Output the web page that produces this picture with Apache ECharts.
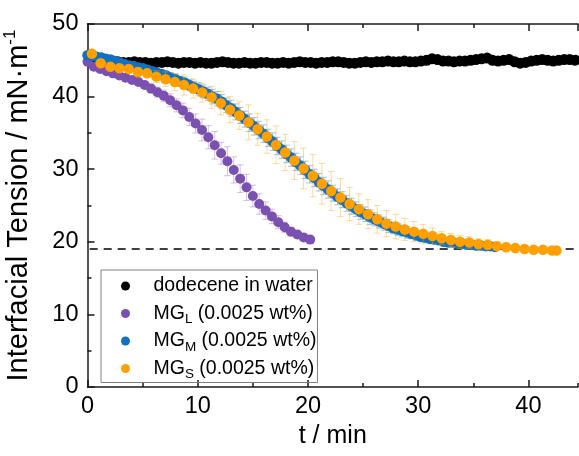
<!DOCTYPE html>
<html>
<head>
<meta charset="utf-8">
<script src="https://cdn.jsdelivr.net/npm/echarts@6/dist/echarts.min.js"></script>
<style>html,body{margin:0;padding:0;background:#fff;}#c{width:579px;height:456px;}</style>
</head>
<body>
<div id="c"></div>
<script>
// ---- data ----
const blackT = [0.25,0.75,1.25,1.75,2.25,2.75,3.25,3.75,4.25,4.75,5.25,5.75,6.25,6.75,7.25,7.75,8.25,8.75,9.25,9.75,10.25,10.75,11.25,11.75,12.25,12.75,13.25,13.75,14.25,14.75,15.25,15.75,16.25,16.75,17.25,17.75,18.25,18.75,19.25,19.75,20.25,20.75,21.25,21.75,22.25,22.75,23.25,23.75,24.25,24.75,25.25,25.75,26.25,26.75,27.25,27.75,28.25,28.75,29.25,29.75,30.25,30.75,31.25,31.75,32.25,32.75,33.25,33.75,34.25,34.75,35.25,35.75,36.25,36.75,37.25,37.75,38.25,38.75,39.25,39.75,40.25,40.75,41.25,41.75,42.25,42.75,43.25,43.75,44.25];
const blackV = [45.0,45.1,45.0,44.9,44.8,44.8,44.7,44.7,44.8,44.7,
  44.7,44.6,44.7,44.7,44.8,44.7,44.6,44.7,44.7,44.6,
  44.7,44.6,44.6,44.7,44.8,44.7,44.6,44.6,44.7,44.6,
  44.6,44.7,44.7,44.6,44.6,44.7,44.6,44.7,44.8,44.7,
  44.7,44.6,44.7,44.7,44.8,44.8,44.7,44.6,44.6,44.7,
  44.8,44.7,44.8,44.8,44.9,44.8,44.8,44.9,44.8,44.8,
  44.9,45.0,45.2,45.1,44.9,44.9,44.8,44.9,44.9,45.0,
  45.1,45.2,45.3,45.0,44.9,45.0,45.1,44.8,44.6,44.7,
  44.9,45.0,45.1,45.0,44.9,45.0,45.1,45.1,45.0];

const mgLT = [0,0.58,1.15,1.73,2.31,2.89,3.46,4.04,4.62,5.19,5.77,6.35,6.92,7.5,8.08,8.66,9.23,9.81,10.39,10.96,11.54,12.12,12.69,13.27,13.85,14.43,15.0,15.58,16.16,16.73,17.31,17.89,18.46,19.04,19.62,20.2];
const mgLV = [44.8,44.1,43.8,43.5,43.2,42.9,42.6,42.3,42.0,41.6,41.1,40.6,40.1,39.5,38.8,38.1,37.2,36.3,35.4,34.4,33.3,32.2,31.1,29.9,28.7,27.5,26.3,25.2,24.3,23.5,22.7,22.0,21.4,21.0,20.6,20.3];
const mgLE = [0.2,0.2,0.3,0.3,0.3,0.3,0.4,0.4,0.5,0.5,0.6,0.7,0.8,0.9,0.9,1.0,1.2,1.3,1.5,1.6,1.9,1.5,2.0,1.8,1.9,1.8,1.5,1.4,1.2,1.0,0.9,0.7,0.6,0.5,0.4,0.3];

const mgMT = [0,0.42,0.84,1.26,1.68,2.1,2.52,2.94,3.36,3.78,4.2,4.62,5.04,5.46,5.88,6.3,6.72,7.14,7.56,7.98,8.4,8.82,9.24,9.66,10.08,10.5,10.92,11.34,11.76,12.18,12.6,13.02,13.44,13.86,14.28,14.7,15.12,15.54,15.96,16.38,16.8,17.22,17.64,18.06,18.48,18.9,19.32,19.74,20.16,20.58,21.0,21.42,21.84,22.26,22.68,23.1,23.52,23.94,24.36,24.78,25.2,25.62,26.04,26.46,26.88,27.3,27.72,28.14,28.56,28.98,29.4,29.82,30.24,30.66,31.08,31.5,31.92,32.34,32.76,33.18,33.6,34.02,34.44,34.86,35.28,35.7,36.12,36.54,36.96];
const mgMV = [45.7,45.6,45.5,45.4,45.2,45.1,44.9,44.7,44.5,44.3,
  44.2,44.0,43.9,43.7,43.5,43.3,43.1,42.9,42.6,42.4,
  42.1,41.9,41.6,41.3,41.0,40.7,40.4,40.0,39.7,39.3,
  38.8,38.4,37.9,37.4,36.9,36.4,35.9,35.4,34.9,34.3,
  33.8,33.2,32.7,32.1,31.6,31.0,30.5,29.9,29.3,28.8,
  28.2,27.7,27.2,26.7,26.2,25.8,25.3,24.9,24.5,24.1,
  23.8,23.4,23.1,22.8,22.5,22.2,21.9,21.7,21.5,21.3,
  21.1,20.9,20.7,20.6,20.4,20.3,20.2,20.0,19.9,19.9,
  19.8,19.7,19.6,19.6,19.5,19.5,19.4,19.4,19.3];
const mgME = [0.3,0.3,0.3,0.3,0.3,0.3,0.3,0.3,0.3,0.3,
  0.4,0.4,0.5,0.5,0.5,0.6,0.6,0.6,0.7,0.7,
  0.7,0.8,0.8,0.8,0.9,0.9,0.9,1.0,1.0,1.0,
  1.0,1.1,1.1,1.1,1.1,1.2,1.2,1.2,1.2,1.2,
  1.2,1.2,1.2,1.2,1.2,1.2,1.2,1.2,1.2,1.2,
  1.2,1.2,1.2,1.1,1.1,1.1,1.1,1.1,1.0,1.0,
  1.0,1.0,0.9,0.9,0.9,0.9,0.8,0.8,0.8,0.8,
  0.7,0.7,0.7,0.7,0.6,0.6,0.6,0.6,0.5,0.5,
  0.5,0.5,0.5,0.4,0.4,0.4,0.4,0.3,0.3];

const mgST = [0.4,1.2,2.07,2.9,3.74,4.58,5.41,6.25,7.08,7.92,8.75,9.59,10.42,11.26,12.09,12.93,13.76,14.6,15.43,16.27,17.1,17.94,18.77,19.6,20.44,21.27,22.11,22.95,23.78,24.62,25.45,26.29,27.12,27.96,28.79,29.63,30.46,31.3,32.13,32.97,33.8,34.64,35.47,36.31,37.14,37.98,38.81,39.65,40.48,41.32,42.15,42.55];
const mgSV = [45.9,44.6,44.1,43.9,43.8,43.4,43.2,42.75,42.4,42.0,41.6,41.1,40.55,39.9,39.1,38.2,37.4,36.45,35.5,34.5,33.35,32.3,31.2,30.1,29.1,28.0,27.0,26.1,25.2,24.5,23.8,23.1,22.5,22.1,21.7,21.4,21.1,20.8,20.5,20.25,20.0,19.9,19.7,19.6,19.4,19.25,19.15,19.0,18.9,18.9,18.8,18.8];
const mgSE = [0.3,0.4,0.4,0.5,0.5,0.6,0.6,0.8,1.0,1.2,1.4,1.3,1.3,1.5,1.6,1.8,1.9,2.4,2.2,2.3,2.6,2.5,2.6,2.8,2.9,2.8,2.7,2.6,2.3,2.1,2.0,1.9,1.8,1.7,1.5,1.4,1.3,1.1,0.9,0.9,0.9,0.8,0.7,0.7,0.6,0.6,0.5,0.4,0.4,0.3,0.3,0.3];

const refLineY = 19;
const xTicks = [0,10,20,30,40];
const yTicks = [0,10,20,30,40,50];

// ---- build ----
const FONT = 'Liberation Sans, Arial, sans-serif';
const C_BLACK = '#000000', C_L = '#7a50b0', C_M = '#1270c2', C_S = '#ffa000';

function pts(t, v){ return t.map((x,i)=>[x, v[i]]); }
function errs(t, v, e){ return t.map((x,i)=>[x, v[i]-e[i], v[i]+e[i]]); }
function errRender(color){
  return function(params, api){
    const x = api.value(0);
    const p1 = api.coord([x, api.value(1)]);
    const p2 = api.coord([x, api.value(2)]);
    const w = 3.3;
    const st = {stroke: color, lineWidth: 1};
    return {type:'group', children:[
      {type:'line', shape:{x1:p1[0],y1:p1[1],x2:p2[0],y2:p2[1]}, style:st},
      {type:'line', shape:{x1:p1[0]-w,y1:p1[1],x2:p1[0]+w,y2:p1[1]}, style:st},
      {type:'line', shape:{x1:p2[0]-w,y1:p2[1],x2:p2[0]+w,y2:p2[1]}, style:st}
    ]};
  };
}
const names = {
  'dodecene in water': 'dodecene in water',
  'MGL': 'MG{sub|L} (0.0025 wt%)',
  'MGM': 'MG{sub|M} (0.0025 wt%)',
  'MGS': 'MG{sub|S} (0.0025 wt%)'
};
const axisLineStyle = {color:'#1a1a1a', width:1.5};
const xBase = {type:'value', min:0, max:44.5, gridIndex:0};

const chart = echarts.init(document.getElementById('c'), null, {renderer:'canvas'});
chart.setOption({
  animation:false,
  backgroundColor:'#fff',
  grid:{left:87.5, right:1, top:24, bottom:69, containLabel:false, outerBoundsMode:'none'},
  legend:{
    orient:'vertical', left:101, top:270,
    data:['dodecene in water','MGL','MGM','MGS'],
    itemWidth:46, itemHeight:9, itemGap:1.5,
    padding:[3,1,1,20],
    borderColor:'#808080', borderWidth:1,
    formatter: n => names[n],
    textStyle:{fontFamily:FONT, fontSize:19.5, color:'#000', lineHeight:26,
      rich:{sub:{fontFamily:FONT, fontSize:13.5, color:'#000', verticalAlign:'bottom'}}}
  },
  xAxis:[
    Object.assign({}, xBase, {position:'bottom', interval:10,
      name:'t / min', nameLocation:'middle', nameGap:37,
      nameTextStyle:{fontFamily:FONT, fontSize:25, color:'#000'},
      axisLine:{show:true, onZero:false, lineStyle:axisLineStyle},
      axisTick:{show:true, inside:true, length:7, lineStyle:axisLineStyle},
      axisLabel:{fontFamily:FONT, fontSize:23.5, color:'#000', margin:8, showMaxLabel:false,
        formatter: v => xTicks.indexOf(v) >= 0 ? String(v) : ''},
      splitLine:{show:false}}),
    Object.assign({}, xBase, {position:'bottom', interval:5,
      axisLine:{show:false, onZero:false}, axisTick:{show:true, inside:true, length:4, lineStyle:axisLineStyle},
      axisLabel:{show:false}, splitLine:{show:false}}),
    Object.assign({}, xBase, {position:'top', interval:10,
      axisLine:{show:true, onZero:false, lineStyle:axisLineStyle},
      axisTick:{show:true, inside:true, length:7, lineStyle:axisLineStyle},
      axisLabel:{show:false}, splitLine:{show:false}}),
    Object.assign({}, xBase, {position:'top', interval:5,
      axisLine:{show:false, onZero:false}, axisTick:{show:true, inside:true, length:4, lineStyle:axisLineStyle},
      axisLabel:{show:false}, splitLine:{show:false}})
  ],
  yAxis:[{
    type:'value', min:0, max:50, interval:10, position:'left',
    name:'Interfacial Tension / mN·m{sup|-1}', nameLocation:'middle', nameGap:52,
    nameTextStyle:{fontFamily:FONT, fontSize:29, color:'#000', lineHeight:34,
      rich:{sup:{fontFamily:FONT, fontSize:17, color:'#000', verticalAlign:'top'}}},
    axisLine:{show:true, onZero:false, lineStyle:axisLineStyle},
    axisTick:{show:true, inside:true, length:7, lineStyle:axisLineStyle},
    minorTick:{show:true, splitNumber:2, length:4, lineStyle:axisLineStyle},
    axisLabel:{fontFamily:FONT, fontSize:23.5, color:'#000', margin:9,
      formatter: v => yTicks.indexOf(v) >= 0 ? String(v) : ''},
    splitLine:{show:false}, minorSplitLine:{show:false}
  }],
  series:[
    {type:'line', name:'ref', data:[[0.2, refLineY],[44.5, refLineY]], symbol:'none',
      lineStyle:{color:'#000', width:1.5, type:[8,6]}, silent:true, z:1},
    {type:'scatter', name:'dodecene in water', data:pts(blackT, blackV), symbol:'circle', symbolSize:11,
      itemStyle:{color:C_BLACK, opacity:1}, z:2},
    {type:'custom', name:'errL', renderItem:errRender('rgba(122,80,176,0.35)'), data:errs(mgLT, mgLV, mgLE),
      encode:{x:0, y:[1,2]}, z:3},
    {type:'scatter', name:'MGL', data:pts(mgLT, mgLV), symbol:'circle', symbolSize:10,
      itemStyle:{color:C_L, opacity:1}, z:4},
    {type:'custom', name:'errM', renderItem:errRender('rgba(18,112,194,0.4)'), data:errs(mgMT, mgMV, mgME),
      encode:{x:0, y:[1,2]}, z:5},
    {type:'scatter', name:'MGM', data:pts(mgMT, mgMV), symbol:'circle', symbolSize:10.5,
      itemStyle:{color:C_M, opacity:1}, z:6},
    {type:'custom', name:'errS', renderItem:errRender('rgba(255,160,0,0.4)'), data:errs(mgST, mgSV, mgSE),
      encode:{x:0, y:[1,2]}, z:7},
    {type:'scatter', name:'MGS', data:pts(mgST, mgSV), symbol:'circle', symbolSize:10.5,
      itemStyle:{color:C_S, opacity:1}, z:8}
  ]
});
</script>
</body>
</html>
